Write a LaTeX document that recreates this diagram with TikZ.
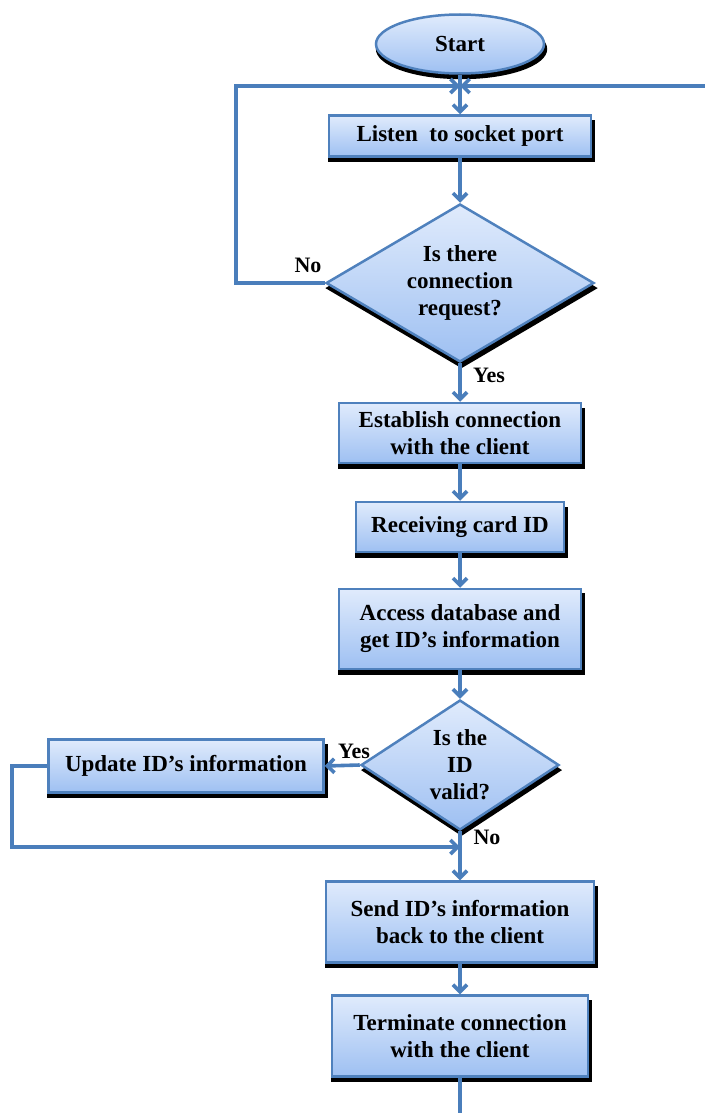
\documentclass[tikz,border=0pt]{standalone}
\usepackage{fontspec}
\setmainfont{Liberation Serif}
\usetikzlibrary{shapes.geometric,shadows,arrows.meta}
\definecolor{lineblue}{RGB}{74,126,187}
\definecolor{edgeblue}{RGB}{79,129,189}
\definecolor{topblue}{RGB}{224,235,252}
\definecolor{botblue}{RGB}{158,192,242}
\tikzset{
  blockshadow/.style={drop shadow={shadow xshift=1.5pt, shadow yshift=-5pt, shadow scale=1.02, fill=black, opacity=1}},
  blockfill/.style={draw=edgeblue, line width=2.5pt, top color=topblue, bottom color=botblue, blockshadow,
    inner sep=0pt, align=center, font=\bfseries\fontsize{23}{27}\selectfont},
  procbox/.style={rectangle, blockfill},
  decision/.style={diamond, blockfill},
  terminal/.style={ellipse, blockfill},
  flow/.style={draw=lineblue, line width=3.6pt},
  arr/.style={flow, -{Straight Barb[length=7pt,width=14pt]}},
  lbl/.style={font=\bfseries\fontsize{22}{26}\selectfont, inner sep=0pt}
}
\begin{document}
\begin{tikzpicture}[x=1pt,y=-1pt]
\useasboundingbox (0,0) rectangle (704,1113);

\node[terminal, minimum width=168pt, minimum height=59pt] (start) at (460,44) {Start};
\node[procbox, minimum width=262pt, minimum height=41pt] (listen) at (460,136) {Listen~ to socket port};
\node[decision, minimum width=268pt, minimum height=158pt, aspect=1.7] (d1) at (460,283) {Is there\\connection\\request?};
\node[procbox, minimum width=242pt, minimum height=60pt] (est) at (460,433) {Establish connection\\with the client};
\node[procbox, minimum width=208pt, minimum height=50pt] (recv) at (460,527) {Receiving card ID};
\node[procbox, minimum width=242pt, minimum height=80pt] (acc) at (460,629) {Access database and\\get ID’s information};
\node[decision, minimum width=198pt, minimum height=130pt, aspect=1.5] (d2) at (460,765) {Is the\\ID\\valid?};
\node[procbox, minimum width=275pt, minimum height=53pt] (upd) at (186,766) {Update ID’s information};
\node[procbox, minimum width=268pt, minimum height=81pt] (send) at (460,922) {Send ID’s information\\back to the client};
\node[procbox, minimum width=256pt, minimum height=81pt] (term) at (460,1036) {Terminate connection\\with the client};

\coordinate (top) at (460,86);
\coordinate (rightend) at (706,86);
\coordinate (leftx) at (236,283);
\coordinate (merge) at (460,847);
\coordinate (farleft) at (12,766);
\coordinate (bottomend) at (460,1115);

% connectors
\draw[arr] (start.south) -- (listen.north);
\draw[arr] (rightend) -- (top);
\draw[arr] (d1.west) -- (leftx) |- (top);
\draw[arr] (listen.south) -- (d1.north);
\draw[arr] (d1.south) -- (est.north);
\draw[arr] (est.south) -- (recv.north);
\draw[arr] (recv.south) -- (acc.north);
\draw[arr] (acc.south) -- (d2.north);
\draw[arr] (d2.west) -- (upd.east);
\draw[arr] (upd.west) -- (farleft) |- (merge);
\draw[arr] (d2.south) -- (send.north);
\draw[arr] (send.south) -- (term.north);
\draw[flow] (term.south) -- (bottomend);

% labels
\node[lbl] (no1) at (308,265) {No};
\node[lbl] (yes1) at (489,375) {Yes};
\node[lbl] (yes2) at (354,751) {Yes};
\node[lbl] (no2) at (487,837) {No};
\end{tikzpicture}
\end{document}
